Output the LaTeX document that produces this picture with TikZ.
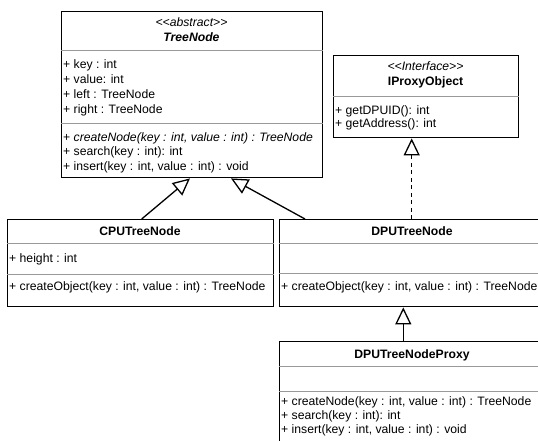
\documentclass[tikz,border=0pt]{standalone}
\usepackage{fontspec}
\setmainfont{Liberation Sans}
\usetikzlibrary{arrows.meta}
\begin{document}
\begin{tikzpicture}[x=1pt,y=-1pt,
  box/.style={draw=black, line width=1.4pt, anchor=north west, inner sep=0, fill=white},
  sepline/.style={draw=black!40, line width=0.9pt},
  txt/.style={inner sep=0, text height=9pt, text depth=0pt, anchor=west, font=\fontsize{12.2}{15}\selectfont},
  ttl/.style={txt, anchor=center},
  conn/.style={line width=1.3pt},
  inh/.style={conn, -{Triangle[open, length=17pt, width=16pt, line width=1.3pt]}},
  real/.style={inh, dash pattern=on 4pt off 3.5pt}
]
\useasboundingbox (0,0) rectangle (538,441);
\clip (0,0) rectangle (538,441);
\fill[white] (0,0) rectangle (538,441);

% TreeNode
\node[box, minimum width=261pt, minimum height=166pt] (tn) at (61,11) {};
\draw[sepline] ([yshift=-39.7pt]tn.north west) -- ([yshift=-39.7pt]tn.north east);
\draw[sepline] ([yshift=-112pt]tn.north west) -- ([yshift=-112pt]tn.north east);
\node[ttl] (tnst) at (191.5,22.5) {\itshape <{}<abstract>{}>};
\node[ttl] (tnti) at (191.5,37.5) {\bfseries\itshape TreeNode};
\node[txt] (tna1) at (63,64) {+ key : int};
\node[txt] (tna2) at (63,79) {+ value: int};
\node[txt] (tna3) at (63,94) {+ left : TreeNode};
\node[txt] (tna4) at (63,109) {+ right : TreeNode};
\node[txt] (tnm1) at (63,137) {+ \itshape createNode(key : int, value : int) : TreeNode};
\node[txt] (tnm2) at (63,151.5) {+ search(key : int): int};
\node[txt] (tnm3) at (63,166) {+ insert(key : int, value : int) : void};

% IProxyObject
\node[box, minimum width=185pt, minimum height=82pt] (ip) at (333,55) {};
\draw[sepline] ([yshift=-41pt]ip.north west) -- ([yshift=-41pt]ip.north east);
\node[ttl] (ipst) at (425.5,66) {\itshape <{}<Interface>{}>};
\node[ttl] (ipti) at (425.5,81.5) {\bfseries IProxyObject};
\node[txt] (ipm1) at (335,110) {+ getDPUID(): int};
\node[txt] (ipm2) at (335,123.5) {+ getAddress(): int};

% CPUTreeNode
\node[box, minimum width=266pt, minimum height=87pt] (cpu) at (7,219) {};
\draw[sepline] ([yshift=-24pt]cpu.north west) -- ([yshift=-24pt]cpu.north east);
\draw[sepline] ([yshift=-55pt]cpu.north west) -- ([yshift=-55pt]cpu.north east);
\node[ttl] (cputi) at (140,230.5) {\bfseries CPUTreeNode};
\node[txt] (cpua1) at (9,258) {+ height : int};
\node[txt] (cpum1) at (9,286) {+ createObject(key : int, value : int) : TreeNode};

% DPUTreeNode
\node[box, minimum width=266pt, minimum height=87pt] (dpu) at (279,219) {};
\draw[sepline] ([yshift=-24pt]dpu.north west) -- ([yshift=-24pt]dpu.north east);
\draw[sepline] ([yshift=-54pt]dpu.north west) -- ([yshift=-54pt]dpu.north east);
\node[ttl] (dputi) at (412,230.5) {\bfseries DPUTreeNode};
\node[txt] (dpum1) at (281,286) {+ createObject(key : int, value : int) : TreeNode};

% DPUTreeNodeProxy
\node[box, minimum width=266pt, minimum height=120pt] (px) at (279,340.7) {};
\draw[sepline] ([yshift=-25.3pt]px.north west) -- ([yshift=-25.3pt]px.north east);
\draw[sepline] ([yshift=-50.3pt]px.north west) -- ([yshift=-50.3pt]px.north east);
\node[ttl] (pxti) at (412,354) {\bfseries DPUTreeNodeProxy};
\node[txt] (pxm1) at (281,401) {+ createNode(key : int, value : int) : TreeNode};
\node[txt] (pxm2) at (281,415) {+ search(key : int): int};
\node[txt] (pxm3) at (281,428.5) {+ insert(key : int, value : int) : void};

% connectors
\draw[inh] ([xshift=134.7pt]cpu.north west) -- ([xshift=129pt]tn.south west);
\draw[inh] ([xshift=26pt]dpu.north west) -- ([xshift=170pt]tn.south west);
\draw[real] ([xshift=132.7pt]dpu.north west) -- ([xshift=78.7pt]ip.south west);
\draw[inh] ([xshift=124.3pt]px.north west) -- ([xshift=124.3pt]dpu.south west);
\end{tikzpicture}
\end{document}
